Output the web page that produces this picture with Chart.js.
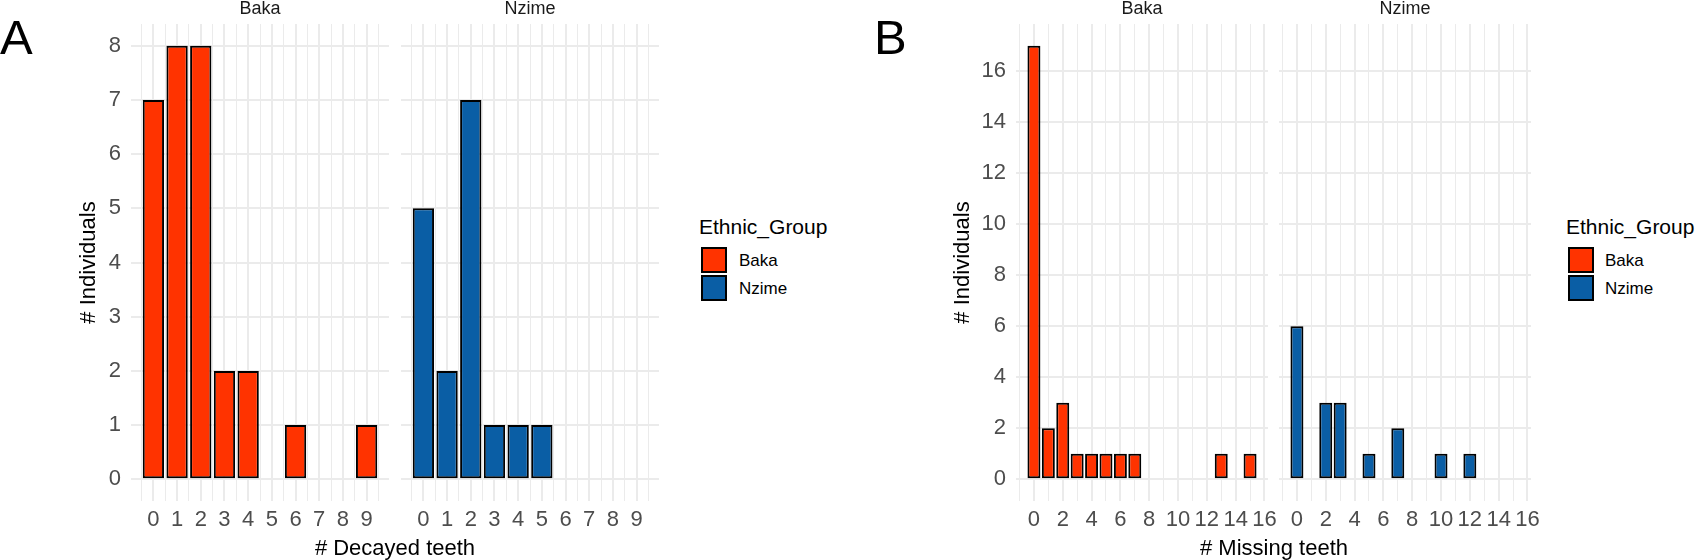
<!DOCTYPE html>
<html>
<head>
<meta charset="utf-8">
<script src="https://cdn.jsdelivr.net/npm/chart.js@4.4.1/dist/chart.umd.min.js"></script>
<style>
  body { margin: 0; width: 1705px; height: 560px; background: #fff; position: relative; overflow: hidden;
         font-family: "Liberation Sans", Arial, sans-serif; }
  canvas { position: absolute; top: 0; }
  .txt { position: absolute; white-space: nowrap; line-height: 1; color: #000; }
  .xtitle { width: 600px; text-align: center; font-size: 22px; top: 537px; }
  .strip { width: 200px; text-align: center; font-size: 18px; top: -1px; color: #1A1A1A; }
  .key { position: absolute; width: 26px; height: 26px; box-sizing: border-box; border: 2px solid #000; }
</style>
</head>
<body>
<div class="txt" style="left:0px; top:13px; font-size:49px;">A</div>
<div class="txt" style="left:874px; top:13px; font-size:49px;">B</div>

<canvas id="decayed-baka" width="349" height="560" style="left:60px"></canvas>
<canvas id="decayed-nzime" width="278" height="560" style="left:401px"></canvas>
<canvas id="missing-baka" width="348" height="560" style="left:940px"></canvas>
<canvas id="missing-nzime" width="278" height="560" style="left:1273px"></canvas>

<div class="txt strip" style="left:160px;">Baka</div>
<div class="txt strip" style="left:430px;">Nzime</div>
<div class="txt strip" style="left:1042px;">Baka</div>
<div class="txt strip" style="left:1305px;">Nzime</div>

<div class="txt xtitle" style="left:95px;"># Decayed teeth</div>
<div class="txt xtitle" style="left:974px;"># Missing teeth</div>

<div class="txt" style="left:699px; top:216px; font-size:21px;">Ethnic_Group</div>
<div class="key" id="keyA0" style="left:701px; top:247px;"></div>
<div class="key" id="keyA1" style="left:701px; top:275px;"></div>
<div class="txt" style="left:739px; top:252px; font-size:17px;">Baka</div>
<div class="txt" style="left:739px; top:280px; font-size:17px;">Nzime</div>

<div class="txt" style="left:1566px; top:216px; font-size:21px;">Ethnic_Group</div>
<div class="key" id="keyB0" style="left:1568px; top:247px;"></div>
<div class="key" id="keyB1" style="left:1568px; top:275px;"></div>
<div class="txt" style="left:1605px; top:252px; font-size:17px;">Baka</div>
<div class="txt" style="left:1605px; top:280px; font-size:17px;">Nzime</div>

<script>
// facet groups and fill colours
const groups = ['Baka', 'Nzime'];
const groupColors = ['#FF3300', '#0A5EA5'];

// panel A: number of decayed teeth -> number of individuals
const decayedBakaTeeth = [0, 1, 2, 3, 4, 6, 9];
const decayedBakaCount = [7, 8, 8, 2, 2, 1, 1];
const decayedNzimeTeeth = [0, 1, 2, 3, 4, 5];
const decayedNzimeCount = [5, 2, 7, 1, 1, 1];

// panel B: number of missing teeth -> number of individuals
const missingBakaTeeth = [0, 1, 2, 3, 4, 5, 6, 7, 13, 15];
const missingBakaCount = [17, 2, 3, 1, 1, 1, 1, 1, 1, 1];
const missingNzimeTeeth = [0, 2, 3, 5, 7, 10, 12];
const missingNzimeCount = [6, 3, 3, 1, 2, 1, 1];

// tick labels
const decayedTickLabels = [0, 1, 2, 3, 4, 5, 6, 7, 8, 9];
const missingTickLabels = [0, 2, 4, 6, 8, 10, 12, 14, 16];
const decayedCountLabels = [0, 1, 2, 3, 4, 5, 6, 7, 8];
const missingCountLabels = [0, 2, 4, 6, 8, 10, 12, 14, 16];

Chart.defaults.font.family = '"Liberation Sans", Arial, sans-serif';

const GRID = '#EBEBEB';
const BAR_WIDTH = 0.9;

groups.forEach((g, i) => {
  document.getElementById('keyA' + i).style.background = groupColors[i];
  document.getElementById('keyB' + i).style.background = groupColors[i];
});

function facet(id, o) {
  return new Chart(document.getElementById(id), {
    type: 'bar',
    data: {
      datasets: [{
        label: o.group,
        xAxisID: 'x',
        yAxisID: 'y',
        data: o.teeth.map((t, i) => ({x: t, y: o.counts[i]})),
        backgroundColor: o.color,
        borderColor: '#000',
        borderWidth: 2,
        borderSkipped: false,
        categoryPercentage: 1,
        // Chart.js sizes bars from the tick spacing, so scale back to 0.9 units
        barPercentage: BAR_WIDTH / o.xStep
      }]
    },
    options: {
      responsive: false,
      animation: false,
      events: [],
      layout: {padding: {left: o.padLeft, right: 20, top: 24, bottom: 0}},
      plugins: {legend: {display: false}, tooltip: {enabled: false}},
      scales: {
        x: {
          type: 'linear', position: 'bottom', offset: false,
          min: o.xMin, max: o.xMax,
          border: {display: false},
          grid: {offset: false, color: GRID, drawTicks: false,
                 lineWidth: c => o.xLabels.includes(c.tick.value) ? 2 : 1},
          ticks: {
            stepSize: o.xStep, includeBounds: false, autoSkip: false,
            maxRotation: 0, minRotation: 0, padding: 8,
            color: '#4D4D4D', font: {size: 22, lineHeight: 1},
            callback: v => o.xLabels.includes(v) ? String(v) : ''
          },
          afterFit: s => { s.height = 59; }
        },
        y: {
          type: 'linear', position: 'left',
          min: o.yMin, max: o.yMax,
          border: {display: false},
          grid: {color: GRID, lineWidth: 2, drawTicks: false},
          ticks: {
            display: o.showY, stepSize: o.yStep, includeBounds: false,
            padding: 10, color: '#4D4D4D', font: {size: 22},
            callback: v => o.yLabels.includes(v) ? String(v) : ''
          },
          title: {display: o.showY, text: '# Individuals', color: '#000',
                  font: {size: 22}, padding: {top: o.yTitlePad, bottom: 0}},
          afterFit: s => { s.width = o.yWidth; }
        }
      }
    }
  });
}

const panelA = {xMin: -0.945, xMax: 9.945, xStep: 0.5, xLabels: decayedTickLabels,
                yMin: -0.4, yMax: 8.4, yStep: 1, yLabels: decayedCountLabels};
const panelB = {xMin: -1.245, xMax: 16.245, xStep: 1, xLabels: missingTickLabels,
                yMin: -0.85, yMax: 17.85, yStep: 2, yLabels: missingCountLabels};

facet('decayed-baka', Object.assign({}, panelA, {
  group: groups[0], color: groupColors[0], teeth: decayedBakaTeeth, counts: decayedBakaCount,
  showY: true, yWidth: 71, yTitlePad: 15.8, padLeft: 0}));
facet('decayed-nzime', Object.assign({}, panelA, {
  group: groups[1], color: groupColors[1], teeth: decayedNzimeTeeth, counts: decayedNzimeCount,
  showY: false, yWidth: 0, yTitlePad: 0, padLeft: 0}));
facet('missing-baka', Object.assign({}, panelB, {
  group: groups[0], color: groupColors[0], teeth: missingBakaTeeth, counts: missingBakaCount,
  showY: true, yWidth: 76, yTitlePad: 10.2, padLeft: 0}));
facet('missing-nzime', Object.assign({}, panelB, {
  group: groups[1], color: groupColors[1], teeth: missingNzimeTeeth, counts: missingNzimeCount,
  showY: false, yWidth: 0, yTitlePad: 0, padLeft: 6}));
</script>
</body>
</html>
